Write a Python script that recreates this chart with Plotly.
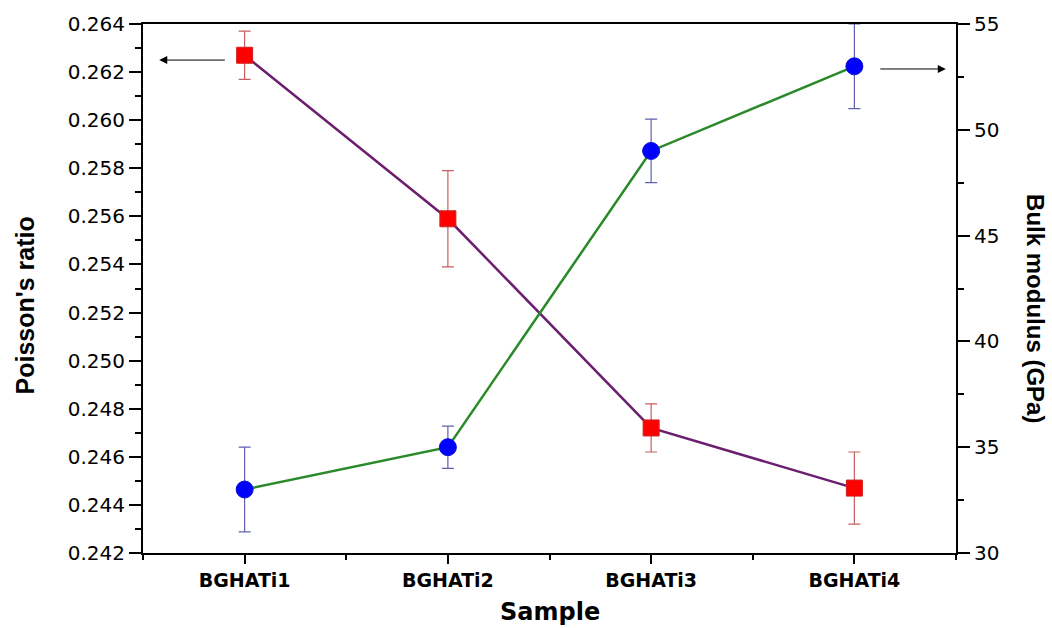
import plotly.graph_objects as go

samples = ["BGHATi1", "BGHATi2", "BGHATi3", "BGHATi4"]
poisson = [0.2627, 0.2559, 0.2472, 0.2447]
poisson_err = [0.0010, 0.0020, 0.0010, 0.0015]
bulk = [33.0, 35.0, 49.0, 53.0]
bulk_err = [2.0, 1.0, 1.5, 2.0]

xi = list(range(len(samples)))
ARIAL = "Liberation Sans, Arial, sans-serif"
WIDE = "DejaVu Sans, sans-serif"

fig = go.Figure()
fig.add_trace(go.Scatter(
    x=xi, y=poisson, mode="lines+markers", yaxis="y",
    line=dict(color="#6b1f6e", width=2.5),
    marker=dict(symbol="square", size=16, color="#ff0000",
                line=dict(color="#d02020", width=1)),
    error_y=dict(type="data", array=poisson_err, color="#c46060",
                 thickness=1.2, width=6),
    showlegend=False,
))
fig.add_trace(go.Scatter(
    x=xi, y=bulk, mode="lines+markers", yaxis="y2",
    line=dict(color="#2a8a2a", width=2.5),
    marker=dict(symbol="circle", size=17, color="#0000ff",
                line=dict(color="#1010d0", width=1)),
    error_y=dict(type="data", array=bulk_err, color="#6060b0",
                 thickness=1.2, width=6),
    showlegend=False,
))

fig.update_layout(
    width=1052, height=628,
    margin=dict(l=143, r=96, t=24, b=75),
    paper_bgcolor="white", plot_bgcolor="white",
    font=dict(family=WIDE, color="black"),
    xaxis=dict(
        range=[-0.5, 3.5], tickmode="array", tickvals=xi, ticktext=samples,
        showline=True, linecolor="black", linewidth=2, mirror=True,
        ticks="outside", ticklen=9, tickwidth=2, tickcolor="black",
        minor=dict(tickmode="array", tickvals=[-0.5, 0.5, 1.5, 2.5, 3.5],
                   ticks="outside", ticklen=5, tickwidth=2, tickcolor="black"),
        tickfont=dict(size=19, weight="bold", family=WIDE),
        showgrid=False, zeroline=False,
    ),
    yaxis=dict(
        range=[0.242, 0.264], tickmode="linear", tick0=0.242, dtick=0.002,
        tickformat=".3f",
        showline=True, linecolor="black", linewidth=2,
        ticks="outside", ticklen=12, tickwidth=2, tickcolor="black",
        minor=dict(dtick=0.001, ticks="outside", ticklen=6, tickwidth=2,
                   tickcolor="black"),
        tickfont=dict(size=20, family=WIDE),
        showgrid=False, zeroline=False,
    ),
    yaxis2=dict(
        range=[30, 55], overlaying="y", side="right",
        tickmode="linear", tick0=30, dtick=5,
        showline=True, linecolor="black", linewidth=2,
        ticks="outside", ticklen=12, tickwidth=2, tickcolor="black",
        minor=dict(dtick=2.5, ticks="outside", ticklen=6, tickwidth=2,
                   tickcolor="black"),
        tickfont=dict(size=20, family=WIDE),
        showgrid=False, zeroline=False,
    ),
)

fig.add_annotation(text="Poisson's ratio", xref="paper", yref="paper",
                   x=0, y=0.468, xanchor="center", yanchor="middle",
                   xshift=-118, textangle=-90, showarrow=False,
                   font=dict(size=25, weight="bold", family=ARIAL))
fig.add_annotation(text="Bulk modulus (GPa)", xref="paper", yref="paper",
                   x=1, y=0.463, xanchor="center", yanchor="middle",
                   xshift=80, textangle=90, showarrow=False,
                   font=dict(size=24, weight="bold", family=ARIAL))
fig.add_annotation(text="Sample", xref="paper", yref="paper",
                   x=0.5, y=0, xanchor="center", yanchor="middle",
                   yshift=-59, showarrow=False,
                   font=dict(size=24, weight="bold", family=WIDE))

# direction arrows
fig.add_annotation(x=-0.42, y=0.2625, ax=-0.09, ay=0.2625,
                   xref="x", yref="y", axref="x", ayref="y",
                   text="", showarrow=True, arrowhead=2, arrowsize=1.6,
                   arrowwidth=1, arrowcolor="black")
fig.add_annotation(x=3.45, y=0.26213, ax=3.12, ay=0.26213,
                   xref="x", yref="y", axref="x", ayref="y",
                   text="", showarrow=True, arrowhead=2, arrowsize=1.6,
                   arrowwidth=1, arrowcolor="black")

fig.write_html("out.html")
